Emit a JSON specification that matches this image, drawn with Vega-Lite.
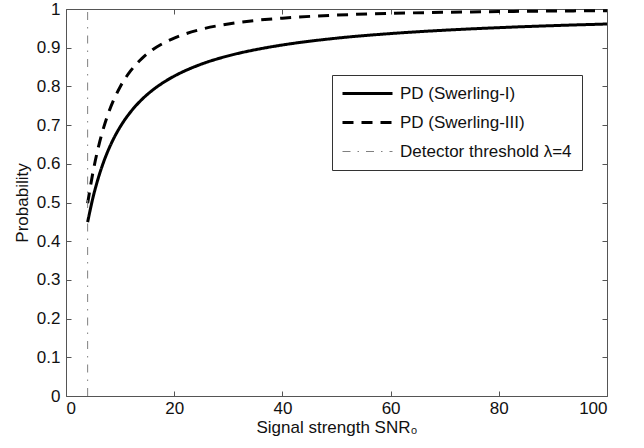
{
  "$schema": "https://vega.github.io/schema/vega-lite/v6.json",
  "width": 541,
  "height": 387,
  "autosize": {"type": "none"},
  "padding": {"left": 66, "top": 9, "right": 37, "bottom": 52},
  "background": "white",
  "config": {
    "view": {"stroke": null},
    "font": "Liberation Sans",
    "axis": {
      "domainColor": "#555555",
      "tickColor": "#555555",
      "tickSize": -5,
      "grid": false,
      "labelFont": "Liberation Sans",
      "labelFontSize": 17,
      "labelColor": "#111111",
      "titleFont": "Liberation Sans",
      "titleFontSize": 17,
      "titleFontWeight": "normal",
      "titleColor": "#111111"
    },
    "legend": {
      "labelFont": "Liberation Sans",
      "labelFontSize": 17,
      "labelColor": "#111111"
    }
  },
  "datasets": {
    "curves": [
      {"snr": 4, "p": 0.4493, "series": "Swerling-I"},
      {"snr": 5, "p": 0.5134, "series": "Swerling-I"},
      {"snr": 6, "p": 0.5647, "series": "Swerling-I"},
      {"snr": 7, "p": 0.6065, "series": "Swerling-I"},
      {"snr": 8, "p": 0.6412, "series": "Swerling-I"},
      {"snr": 9, "p": 0.6703, "series": "Swerling-I"},
      {"snr": 10, "p": 0.6951, "series": "Swerling-I"},
      {"snr": 12, "p": 0.7351, "series": "Swerling-I"},
      {"snr": 14, "p": 0.7659, "series": "Swerling-I"},
      {"snr": 16, "p": 0.7903, "series": "Swerling-I"},
      {"snr": 18, "p": 0.8101, "series": "Swerling-I"},
      {"snr": 20, "p": 0.8265, "series": "Swerling-I"},
      {"snr": 25, "p": 0.8574, "series": "Swerling-I"},
      {"snr": 30, "p": 0.8790, "series": "Swerling-I"},
      {"snr": 35, "p": 0.8948, "series": "Swerling-I"},
      {"snr": 40, "p": 0.9070, "series": "Swerling-I"},
      {"snr": 50, "p": 0.9246, "series": "Swerling-I"},
      {"snr": 60, "p": 0.9365, "series": "Swerling-I"},
      {"snr": 70, "p": 0.9452, "series": "Swerling-I"},
      {"snr": 80, "p": 0.9518, "series": "Swerling-I"},
      {"snr": 90, "p": 0.9570, "series": "Swerling-I"},
      {"snr": 100, "p": 0.9612, "series": "Swerling-I"},
      {"snr": 4, "p": 0.4979, "series": "Swerling-III"},
      {"snr": 5, "p": 0.5793, "series": "Swerling-III"},
      {"snr": 6, "p": 0.6438, "series": "Swerling-III"},
      {"snr": 7, "p": 0.6953, "series": "Swerling-III"},
      {"snr": 8, "p": 0.7369, "series": "Swerling-III"},
      {"snr": 9, "p": 0.7707, "series": "Swerling-III"},
      {"snr": 10, "p": 0.7986, "series": "Swerling-III"},
      {"snr": 12, "p": 0.8413, "series": "Swerling-III"},
      {"snr": 14, "p": 0.8719, "series": "Swerling-III"},
      {"snr": 16, "p": 0.8946, "series": "Swerling-III"},
      {"snr": 18, "p": 0.9116, "series": "Swerling-III"},
      {"snr": 20, "p": 0.9249, "series": "Swerling-III"},
      {"snr": 25, "p": 0.9476, "series": "Swerling-III"},
      {"snr": 30, "p": 0.9613, "series": "Swerling-III"},
      {"snr": 35, "p": 0.9704, "series": "Swerling-III"},
      {"snr": 40, "p": 0.9764, "series": "Swerling-III"},
      {"snr": 50, "p": 0.9842, "series": "Swerling-III"},
      {"snr": 60, "p": 0.9887, "series": "Swerling-III"},
      {"snr": 70, "p": 0.9914, "series": "Swerling-III"},
      {"snr": 80, "p": 0.9933, "series": "Swerling-III"},
      {"snr": 90, "p": 0.9947, "series": "Swerling-III"},
      {"snr": 100, "p": 0.9957, "series": "Swerling-III"},
      {"snr": 4, "p": 0, "series": "Threshold"},
      {"snr": 4, "p": 1, "series": "Threshold"}
    ]
  },
  "data": {"name": "curves"},
  "resolve": {"axis": {"x": "independent", "y": "independent"}},
  "layer": [
    {
      "mark": {"type": "line", "interpolate": "monotone"},
      "encoding": {
        "x": {
          "field": "snr", "type": "quantitative",
          "scale": {"domain": [0, 100], "nice": false},
          "axis": {"values": [0, 20, 40, 60, 80, 100], "title": "Signal strength SNR₀", "labelPadding": 9, "titlePadding": 3}
        },
        "y": {
          "field": "p", "type": "quantitative",
          "scale": {"domain": [0, 1], "nice": false},
          "axis": {"values": [0, 0.1, 0.2, 0.3, 0.4, 0.5, 0.6, 0.7, 0.8, 0.9, 1], "labelExpr": "datum.value == 0 ? '0' : datum.value == 1 ? '1' : format(datum.value, '.1f')", "title": "Probability", "labelPadding": 11, "titlePadding": 5}
        },
        "color": {
          "field": "series", "type": "nominal",
          "scale": {"domain": ["Swerling-I", "Swerling-III", "Threshold"], "range": ["#000000", "#000000", "#808080"]},
          "legend": {
            "title": null,
            "orient": "none",
            "legendX": 266,
            "legendY": 66,
            "strokeColor": "#333333",
            "fillColor": "#ffffff",
            "padding": 10,
            "symbolType": "M-1,0H5.25",
            "symbolSize": 256,
            "rowPadding": 11,
            "labelOffset": 41,
            "labelLimit": 400,
            "labelExpr": "datum.value == 'Swerling-I' ? 'PD (Swerling-I)' : datum.value == 'Swerling-III' ? 'PD (Swerling-III)' : 'Detector threshold λ=4'",
            "encode": {
              "symbols": {
                "update": {
                  "strokeWidth": {"signal": "datum.value == 'Threshold' ? 1 : 3"}
                }
              }
            }
          }
        },
        "strokeDash": {
          "field": "series", "type": "nominal",
          "scale": {"domain": ["Swerling-I", "Swerling-III", "Threshold"], "range": [[1, 0], [11, 8], [8, 7, 1.5, 7]]}
        },
        "strokeWidth": {
          "condition": {"test": "datum.series == 'Threshold'", "value": 1},
          "value": 3
        }
      }
    },
    {
      "mark": {"type": "rule", "opacity": 0},
      "encoding": {
        "x": {"field": "snr", "type": "quantitative", "axis": {"orient": "top", "values": [0, 20, 40, 60, 80, 100], "labels": false, "title": null}},
        "y": {"field": "p", "type": "quantitative", "axis": {"orient": "right", "values": [0, 0.1, 0.2, 0.3, 0.4, 0.5, 0.6, 0.7, 0.8, 0.9, 1], "labels": false, "title": null}}
      }
    }
  ]
}
